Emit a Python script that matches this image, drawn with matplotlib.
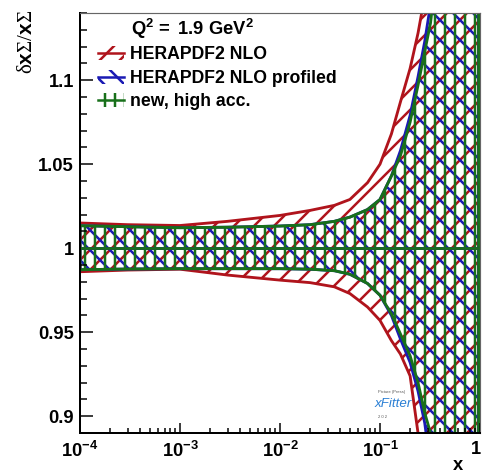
import numpy as np
import matplotlib
matplotlib.use("Agg")
import matplotlib.pyplot as plt
import matplotlib.transforms as mtransforms
from matplotlib.patches import Rectangle
from matplotlib.lines import Line2D
from matplotlib.ticker import FixedLocator, LogLocator, NullFormatter, MultipleLocator

plt.rcParams['font.family'] = ['Liberation Sans', 'DejaVu Sans']
plt.rcParams['mathtext.fontset'] = 'custom'
plt.rcParams['mathtext.rm'] = 'Liberation Serif'
plt.rcParams['mathtext.bf'] = 'Liberation Sans:bold'
plt.rcParams['mathtext.sf'] = 'Liberation Sans:bold'
plt.rcParams['mathtext.it'] = 'Liberation Sans:italic'
plt.rcParams['hatch.linewidth'] = 1.5

# ---- relative uncertainty bands on the singlet distribution at Q^2 = 1.9 GeV^2 ----
x = [1e-4, 3e-4, 1e-3, 3e-3, 1e-2, 2e-2, 3.5e-2, 5e-2, 7.5e-2, 0.1, 0.13, 0.16,
     0.2, 0.24, 0.28, 0.32, 0.36, 0.5, 0.7, 0.97]

# HERAPDF2 NLO
hera_up = [0.015, 0.014, 0.0135, 0.016, 0.0195, 0.0225, 0.0255, 0.029, 0.039, 0.050,
           0.068, 0.087, 0.107, 0.128, 0.15, 0.20, 0.30, 0.30, 0.30, 0.30]
hera_dn = [0.014, 0.013, 0.0125, 0.016, 0.019, 0.0205, 0.023, 0.027, 0.035, 0.043,
           0.055, 0.063, 0.076, 0.11, 0.30, 0.30, 0.30, 0.30, 0.30, 0.30]

# HERAPDF2 NLO profiled
prof_up = [0.0134, 0.0128, 0.0122, 0.0125, 0.0132, 0.014, 0.016, 0.0185, 0.023, 0.029,
           0.043, 0.058, 0.079, 0.102, 0.123, 0.145, 0.20, 0.30, 0.30, 0.30]
prof_dn = [0.0128, 0.0124, 0.0122, 0.0122, 0.0122, 0.0125, 0.0134, 0.0155, 0.021, 0.028,
           0.040, 0.054, 0.068, 0.085, 0.104, 0.13, 0.20, 0.30, 0.30, 0.30]

# new, high accuracy
new_up = [0.0134, 0.0128, 0.0122, 0.0125, 0.0132, 0.014, 0.016, 0.0185, 0.023, 0.029,
          0.043, 0.055, 0.075, 0.097, 0.117, 0.134, 0.16, 0.30, 0.30, 0.30]
new_dn = [0.0128, 0.0124, 0.0122, 0.0122, 0.0122, 0.0125, 0.0134, 0.0155, 0.021, 0.028,
          0.039, 0.051, 0.064, 0.080, 0.098, 0.110, 0.20, 0.30, 0.30, 0.30]

labels = ["HERAPDF2 NLO", "HERAPDF2 NLO profiled", "new, high acc."]
colors = ["#b0141c", "#1a1ab4", "#18701a"]
hatches = ["//", "\\\\", "||"]
bands = [(hera_up, hera_dn), (prof_up, prof_dn), (new_up, new_dn)]

xticks = [1e-4, 1e-3, 1e-2, 1e-1, 1]
xticklabels = [r'$\mathbf{10^{-4}}$', r'$\mathbf{10^{-3}}$', r'$\mathbf{10^{-2}}$',
               r'$\mathbf{10^{-1}}$', r'$\mathbf{1}$']
yticks = [0.9, 0.95, 1.0, 1.05, 1.1]
yticklabels = ["0.9", "0.95", "1", "1.05", "1.1"]

W, H, DPI = 484, 476, 120
fig = plt.figure(figsize=(W / DPI, H / DPI), dpi=DPI)
ax = fig.add_axes([80 / W, 1 - 433 / H, 400 / W, 420 / H])

xa = np.array(x)
for (up, dn), c, h in zip(bands, colors, hatches):
    ax.fill_between(xa, 1 - np.array(dn), 1 + np.array(up), facecolor='none',
                    edgecolor=c, hatch=h, linewidth=1.7)
for c in colors:
    ax.plot([x[0], x[-1]], [1, 1], color=c, lw=1.6)

ax.set_xscale('log')
ax.set_xlim(1e-4, 1)
ax.set_ylim(0.89, 1.14)

ax.xaxis.set_major_locator(FixedLocator(xticks))
ax.set_xticklabels(xticklabels)
ax.xaxis.set_minor_locator(LogLocator(base=10, subs=np.arange(2, 10), numticks=20))
ax.xaxis.set_minor_formatter(NullFormatter())
ax.yaxis.set_major_locator(FixedLocator(yticks))
ax.set_yticklabels(yticklabels)
ax.yaxis.set_minor_locator(MultipleLocator(0.01))

ax.tick_params(axis='both', which='both', direction='in', top=False, right=False,
               width=0.9, colors='black')
ax.tick_params(axis='y', which='major', length=7.8, pad=3.6, labelsize=11)
ax.tick_params(axis='y', which='minor', length=4)
ax.tick_params(axis='x', which='major', length=6, pad=4.5, labelsize=11)
ax.tick_params(axis='x', which='minor', length=3)
for lab in ax.get_yticklabels():
    lab.set_fontweight('bold')

# keep the last x tick label inside the canvas
last = ax.get_xticklabels()[-1]
last.set_transform(last.get_transform() +
                   mtransforms.ScaledTranslation(-4 / DPI, 0, fig.dpi_scale_trans))

for s in ('left', 'bottom'):
    ax.spines[s].set_linewidth(1.2)
for s in ('top', 'right'):
    ax.spines[s].set_linewidth(0.7)
    ax.spines[s].set_color('#666666')

ax.set_xlabel('x', fontsize=11, fontweight='bold', ha='right', va='top')
ax.xaxis.set_label_coords(0.9575, -0.058)
ax.set_ylabel(r'$\mathrm{\delta}\mathsf{x}\mathrm{\Sigma}/\mathsf{x}\mathrm{\Sigma}$',
              fontsize=12.5, ha='right', va='center')
ax.yaxis.set_label_coords(-0.135, 1.007)

# legend block
def ay(py):
    return (433 - py) / 420

ax.text(0.1275, ay(35), r'$\mathbf{Q^2\!\ =\ 1.9\ GeV^2}$', fontsize=11,
        ha='left', va='baseline', transform=ax.transAxes)
for lab, c, h, yc in zip(labels, colors, hatches, [52.5, 76.5, 100]):
    x0, x1 = (98 - 80) / 400, (124 - 80) / 400
    ax.add_patch(Rectangle((x0, ay(yc + 7)), x1 - x0, 14 / 420,
                           transform=ax.transAxes, facecolor='none', edgecolor=c,
                           hatch=h, linewidth=0, clip_on=False))
    ax.add_line(Line2D([x0, x1], [ay(yc), ay(yc)], color=c, lw=1.5,
                       transform=ax.transAxes, clip_on=False))
    ax.text(0.125, ay(yc + 6.5), lab, fontsize=10.6, fontweight='bold',
            ha='left', va='baseline', transform=ax.transAxes)

# xFitter mark
ax.text((392 - 80) / 400, ay(392), 'Picture (Press)', fontsize=2.5, color='#555555',
        ha='center', va='center', transform=ax.transAxes)
ax.text((393 - 80) / 400, ay(404), 'xFitter', fontsize=8, color='#2a7fd4',
        style='italic', ha='center', va='center', transform=ax.transAxes)
ax.text((383 - 80) / 400, ay(417), '2 0 2', fontsize=2.5, color='#555555',
        ha='center', va='center', transform=ax.transAxes)

fig.savefig('out.png', dpi=DPI)
